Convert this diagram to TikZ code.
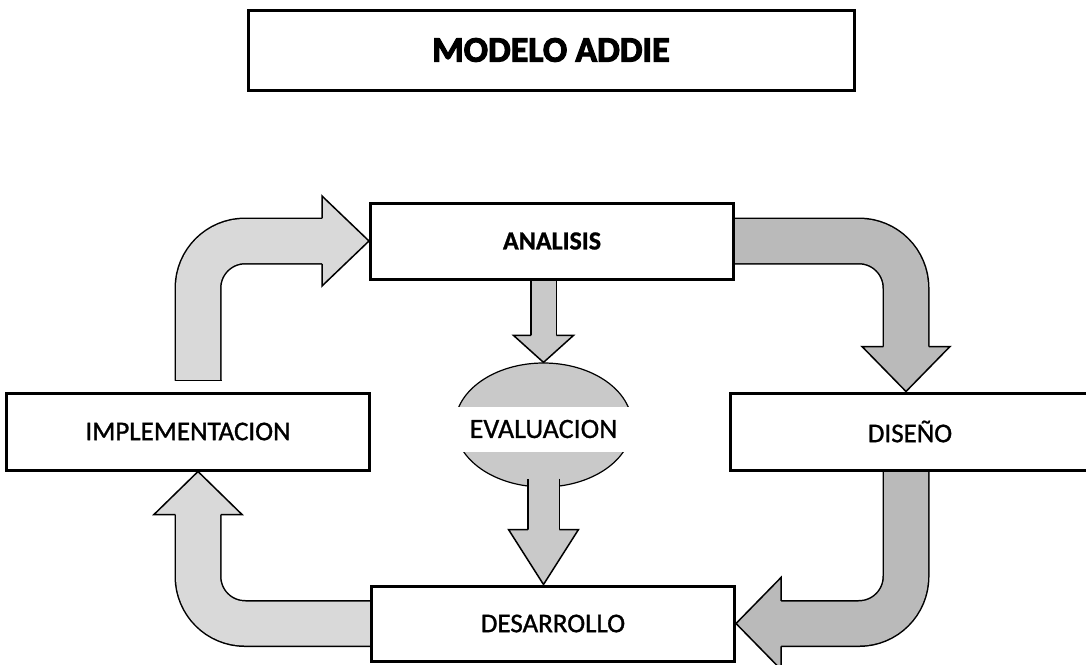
\documentclass[tikz,border=0pt]{standalone}
\usepackage{fontspec}
\setmainfont{Carlito}
\newfontfamily\titulofont[UprightFont={* Bold},FakeBold=3]{Carlito}
\newfontfamily\etiqueta[FakeBold=1.2]{Carlito}
\newfontfamily\evalfont[FakeBold=0.8]{Carlito}
\newfontfamily\negrita[UprightFont={* Bold},FakeBold=1]{Carlito}
\usetikzlibrary{shapes.geometric,calc,backgrounds}
\colorlet{gclaro}{black!15}
\colorlet{gmedio}{black!21}
\colorlet{goscuro}{black!27}

\begin{document}
\begin{tikzpicture}[x=1pt,y=-1pt]
        \tikzstyle{caja}=[rectangle,draw=black,line width=3pt,fill=white,inner sep=0pt,minimum width=363pt,minimum height=76pt,font=\etiqueta\fontsize{27}{32}\selectfont]
        \tikzstyle{tubo}=[draw=black,line width=1.5pt,double distance=44pt,rounded corners=47pt]
        \tikzstyle{punta}=[draw=black,line width=1.5pt]
        \useasboundingbox (0,0) rectangle (1086,664);
        \coordinate (lcol) at (198,0);
        \coordinate (rcol) at (906,0);
        \begin{scope}
                \node [caja,minimum width=606pt,minimum height=80pt] (titulo) at (551,50) {\titulofont\fontsize{36}{40}\selectfont MODELO ADDIE};
                \node [caja] (analisis) at (552,241) {\negrita\fontsize{26}{30}\selectfont ANALISIS};
                \node [caja,minimum height=77pt] (implementacion) at (188,431.5) {IMPLEMENTACION};
                \node [caja,minimum width=360pt,minimum height=77pt] (diseno) at (910,431.5) {DISEÑO};
                \node [caja,minimum height=75pt] (desarrollo) at (553,623.5) {DESARROLLO};
                \node [ellipse,draw=black,line width=1.2pt,fill=gmedio,minimum width=177pt,minimum height=124pt,inner sep=0pt] (evaluacion) at (543.5,425) {};
                \node [fill=white,minimum width=190pt,minimum height=45pt,inner sep=0pt,font=\evalfont\fontsize{28}{32}\selectfont] (evaltexto) at (543.5,429) {EVALUACION};
        \end{scope}
        \begin{scope}[on background layer]
                % implementacion to analisis
                \draw[tubo,double=gclaro] ($(implementacion.north -| lcol)+(0,-11)$) |- ($(analisis.west)+(-46,0)$);
                \draw[punta] ($(implementacion.north -| lcol)+(-23.5,-11)$) -- ++(47,0);
                \fill[gclaro] (analisis.west) -- ++(-47,-45) -- ++(0,90) -- cycle;
                \draw[punta] ($(analisis.west)+(-47,-22.75)$) -- ++(0,-22.25) -- (analisis.west) -- ++(-47,45) -- ++(0,-22.25);
                % analisis to diseno
                \draw[tubo,double=goscuro] (analisis.east) -| ($(diseno.north -| rcol)+(0,-44)$);
                \fill[goscuro] (diseno.north -| rcol) -- ++(-44,-45) -- ++(88,0) -- cycle;
                \draw[punta] ($(diseno.north -| rcol)+(-22.75,-45)$) -- ++(-21.25,0) -- (diseno.north -| rcol) -- ++(44,-45) -- ++(-21.25,0);
                % diseno to desarrollo
                \draw[tubo,double=goscuro] (diseno.south -| rcol) |- ($(desarrollo.east)+(44,0)$);
                \fill[goscuro] (desarrollo.east) -- ++(45,-46) -- ++(0,92) -- cycle;
                \draw[punta] ($(desarrollo.east)+(45,-22.75)$) -- ++(0,-23.25) -- (desarrollo.east) -- ++(45,46) -- ++(0,-23.25);
                % desarrollo to implementacion
                \draw[tubo,double=gclaro] (desarrollo.west) -| ($(implementacion.south -| lcol)+(0,42)$);
                \fill[gclaro] (implementacion.south -| lcol) -- ++(-44,43) -- ++(88,0) -- cycle;
                \draw[punta] ($(implementacion.south -| lcol)+(-22.75,43)$) -- ++(-21.25,0) -- (implementacion.south -| lcol) -- ++(44,43) -- ++(-21.25,0);
                % analisis to evaluacion
                \draw[punta,double=gmedio,double distance=24pt] (analisis.south -| evaluacion.north) -- ($(evaluacion.north)+(0,-26)$);
                \fill[gmedio] (evaluacion.north) -- ++(-30,-27) -- ++(60,0) -- cycle;
                \draw[punta] ($(evaluacion.north)+(-12.75,-27)$) -- ++(-17.25,0) -- (evaluacion.north) -- ++(30,-27) -- ++(-17.25,0);
        \end{scope}
        % evaluacion to desarrollo
        \draw[punta,double=gmedio,double distance=30pt] ($(evaluacion.south)+(0,-9)$) -- ($(desarrollo.north -| evaluacion.south)+(0,-54)$);
        \fill[gmedio] (desarrollo.north -| evaluacion.south) -- ++(-35,-55) -- ++(70,0) -- cycle;
        \draw[punta] ($(desarrollo.north -| evaluacion.south)+(-15.75,-55)$) -- ++(-19.25,0) -- (desarrollo.north -| evaluacion.south) -- ++(35,-55) -- ++(-19.25,0);
\end{tikzpicture}
\end{document}
